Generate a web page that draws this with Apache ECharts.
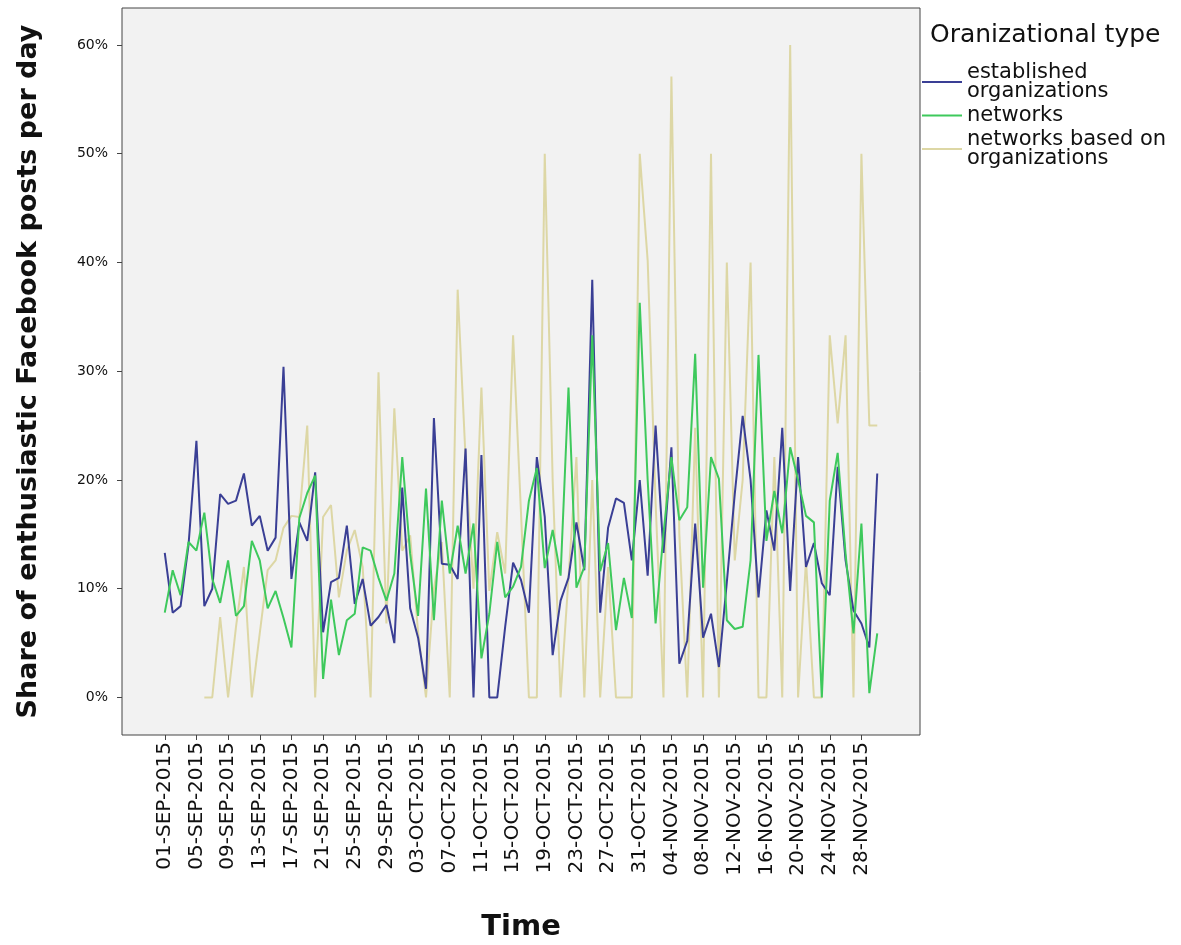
<!DOCTYPE html>
<html>
<head>
<meta charset="utf-8">
<script src="https://cdn.jsdelivr.net/npm/echarts@6/dist/echarts.min.js"></script>
<style>html,body{margin:0;padding:0;background:#fff;}#c{width:1181px;height:945px;}</style>
</head>
<body>
<div id="c"></div>
<script>
// Day index 0 = 01-SEP-2015 ... 90 = 30-NOV-2015
var startDate = [2015, 8, 1];
var tickDays = [0,4,8,12,16,20,24,28,32,36,40,44,48,52,56,60,64,68,72,76,80,84,88];
var yTicks = [0,10,20,30,40,50,60];

var established = [13.3,7.8,8.4,14,23.6,8.4,10,18.7,17.8,18.1,20.6,15.8,16.7,13.5,14.7,30.4,10.9,16.1,14.4,20.7,6.0,10.6,11.0,15.8,8.6,10.9,6.6,7.4,8.5,5.0,19.3,8.2,5.5,0.8,25.7,12.3,12.2,10.9,22.9,0,22.3,0,0,6.5,12.4,10.8,7.8,22.1,16.6,3.9,8.9,11.0,16.1,11.7,38.4,7.8,15.6,18.3,17.9,12.6,20.0,11.2,25.0,13.3,23.0,3.1,5.2,16,5.5,7.7,2.8,10.6,18.7,25.9,20.0,9.2,17.2,13.5,24.8,9.8,22.1,12.0,14.2,10.5,9.4,21.2,12.6,8.0,6.8,4.6,20.6];
var networks = [7.8,11.7,9.4,14.3,13.5,17.0,10.9,8.7,12.6,7.5,8.4,14.4,12.6,8.2,9.8,7.3,4.6,16.5,18.8,20.4,1.7,9,3.9,7.1,7.7,13.8,13.5,11.0,8.9,11.4,22.1,13.2,7.5,19.2,7.1,18.1,11.4,15.8,11.4,16.0,3.6,7.7,14.3,9.2,10.2,12.0,18.1,21.1,11.9,15.4,11.2,28.5,10.1,12,33.3,11.6,14.2,6.2,11.0,7.3,36.3,20,6.8,15.1,22.1,16.3,17.5,31.6,10.1,22.1,20.1,7.1,6.3,6.5,12.6,31.5,14.4,19,15.1,23.0,20,16.7,16.1,0,18.1,22.5,13.2,5.9,16.0,0.4,5.9];
var networksOrg = [null,null,null,null,null,0,0,7.4,0,6.5,12.0,0,5.9,11.7,12.6,15.6,16.7,16.6,25.0,0,16.6,17.7,9.2,13.5,15.4,12,0,29.9,6.8,26.6,13.5,14.9,6,0,10,14.3,0,37.5,22,10,28.5,9.8,15.2,11.4,33.3,17,0,0,50,20,0,11,22.1,0,20,0,12,0,0,0,50,40.2,18,0,57.1,15,0,24.8,0,50,0,40,12.6,20,40,0,0,22.1,0,60,0,12.6,0,0,33.3,25.2,33.3,0,50,25,25];

var seriesNames = ['established\norganizations', 'networks', 'networks based on\norganizations'];
var months = ['JAN','FEB','MAR','APR','MAY','JUN','JUL','AUG','SEP','OCT','NOV','DEC'];

function dayLabel(i) {
  var d = new Date(startDate[0], startDate[1], startDate[2] + Math.round(i));
  var dd = d.getDate();
  return (dd < 10 ? '0' + dd : '' + dd) + '-' + months[d.getMonth()] + '-' + d.getFullYear();
}
function pairs(arr) { return arr.map(function (v, i) { return [i, v]; }); }

var FONT = 'DejaVu Sans';
var chart = echarts.init(document.getElementById('c'), null, {renderer: 'canvas'});
chart.setOption({
  backgroundColor: '#ffffff',
  animation: false,
  title: {
    text: 'Oranizational type',
    left: 925, top: 18,
    textStyle: {fontFamily: FONT, fontSize: 25, fontWeight: 'normal', color: '#111'}
  },
  legend: {
    orient: 'vertical',
    left: 917, top: 57,
    itemWidth: 40, itemHeight: 2, itemGap: 3,
    icon: 'rect',
    textStyle: {fontFamily: FONT, fontSize: 21, color: '#111', lineHeight: 19},
    data: seriesNames
  },
  grid: {left: 122, right: 261, top: 8, bottom: 210, outerBoundsMode: 'none', containLabel: false, show: true, backgroundColor: '#f2f2f2', borderColor: '#444', borderWidth: 1},
  xAxis: {
    type: 'value',
    min: -5.4, max: 95.4,
    name: 'Time', nameLocation: 'middle', nameGap: 178,
    nameTextStyle: {fontFamily: FONT, fontSize: 29, fontWeight: 'bold', color: '#111'},
    axisLine: {show: false, onZero: false},
    splitLine: {show: false},
    axisTick: {show: true, customValues: tickDays, length: 5, lineStyle: {color: '#444'}},
    axisLabel: {
      customValues: tickDays, rotate: 90, margin: 7,
      fontFamily: FONT, fontSize: 20, color: '#111',
      formatter: function (v) { return dayLabel(v); }
    }
  },
  yAxis: {
    type: 'value',
    min: -3.45, max: 63.4,
    name: 'Share of enthusiastic Facebook posts per day', nameLocation: 'middle', nameGap: 80,
    nameTextStyle: {fontFamily: FONT, fontSize: 27, fontWeight: 'bold', color: '#111'},
    axisLine: {show: false, onZero: false},
    splitLine: {show: false},
    axisTick: {show: true, customValues: yTicks, length: 5, lineStyle: {color: '#444'}},
    axisLabel: {
      customValues: yTicks, margin: 14,
      fontFamily: FONT, fontSize: 14, color: '#111',
      formatter: function (v) { return v + '%'; }
    }
  },
  series: [
    {name: seriesNames[0], type: 'line', data: pairs(established), showSymbol: false, lineStyle: {color: '#3a3f95', width: 2}, itemStyle: {color: '#3a3f95'}, z: 3},
    {name: seriesNames[1], type: 'line', data: pairs(networks), showSymbol: false, lineStyle: {color: '#3ec95c', width: 2}, itemStyle: {color: '#3ec95c'}, z: 4},
    {name: seriesNames[2], type: 'line', data: pairs(networksOrg), showSymbol: false, connectNulls: false, lineStyle: {color: '#ddd7a5', width: 2}, itemStyle: {color: '#ddd7a5'}, z: 2}
  ]
});
</script>
</body>
</html>
